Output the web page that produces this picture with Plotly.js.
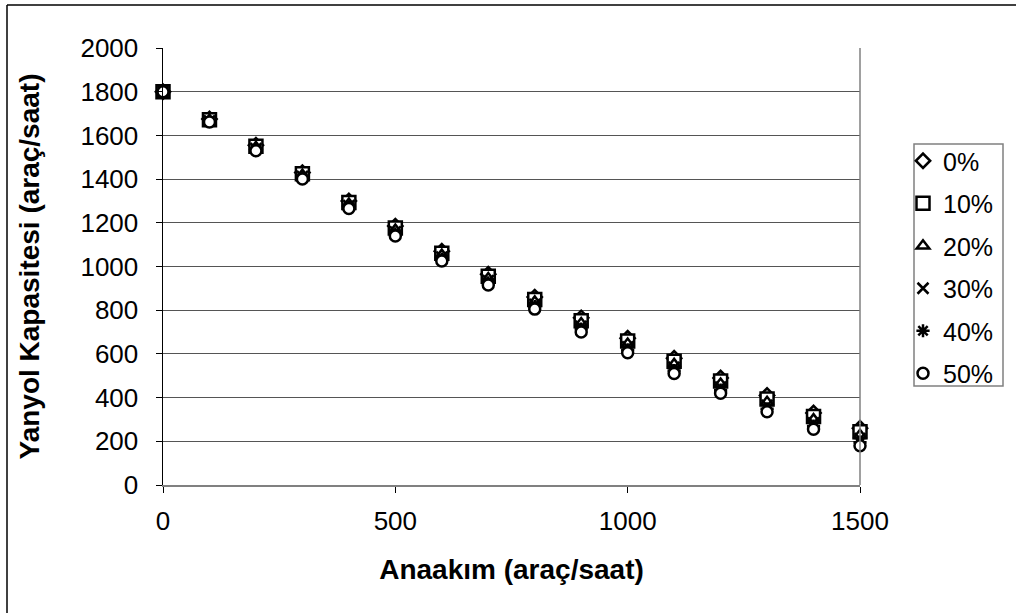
<!DOCTYPE html>
<html>
<head>
<meta charset="utf-8">
<script src="https://cdn.plot.ly/plotly-3.0.1.min.js"></script>
<style>html,body{margin:0;padding:0;background:#fff;}#chart{width:1016px;height:613px;}</style>
</head>
<body>
<div id="chart"></div>
<script>
var anaakim = [0,100,200,300,400,500,600,700,800,900,1000,1100,1200,1300,1400,1500];
var p0  = [1800,1675,1555,1430,1300,1185,1070,965,860,765,672,580,490,410,330,260];
var p10 = [1800,1672,1550,1424,1293,1176,1061,955,849,752,659,566,476,394,314,244];
var p20 = [1800,1669,1545,1418,1286,1167,1052,945,838,739,645,552,462,379,299,228];
var p30 = [1800,1667,1540,1412,1279,1158,1043,935,827,726,632,538,448,364,284,212];
var p40 = [1800,1664,1535,1406,1272,1149,1034,925,816,713,618,524,434,349,270,196];
var p50 = [1800,1661,1530,1400,1265,1140,1025,915,805,700,605,510,420,335,255,180];
var seriesNames = ['0%','10%','20%','30%','40%','50%'];
var seriesData = [p0,p10,p20,p30,p40,p50];
var symbols = ['diamond','square','triangle-up','x-thin-open','asterisk-open','circle'];
var fills = ['#ffffff','#ffffff','#ffffff','#000000','#000000','#ffffff'];
var sizes = [11,13,11,11,11,11];

var traces = seriesData.map(function(d,i){
  return {
    x: anaakim, y: d, name: seriesNames[i], type: 'scatter', mode: 'markers',
    legendgroup: 'g'+i,
    marker: {symbol: symbols[i], size: sizes[i], color: fills[i],
             line: {color: '#000000', width: 2.5}},
    cliponaxis: false
  };
});

// plot area: left 163, right 860, top 48, bottom 485
function px(x){ return (x-163)/697; }
function py(y){ return (485-y)/437; }

var layout = {
  width: 1016, height: 613,
  margin: {l: 163, r: 156, t: 48, b: 128},
  paper_bgcolor: '#ffffff', plot_bgcolor: '#ffffff',
  font: {family: 'Liberation Sans, Arial, sans-serif', size: 26, color: '#000'},
  showlegend: true,
  legend: {x: px(903), xanchor: 'left', y: py(138), yanchor: 'top',
           borderwidth: 0, bgcolor: 'rgba(0,0,0,0)',
           font: {size: 25}, traceorder: 'grouped', tracegroupgap: 7,
           itemwidth: 30},
  xaxis: {range: [0,1500], tickvals: [0,500,1000,1500], ticks: 'outside', ticklen: 6,
          tickcolor: '#000', showgrid: false, zeroline: false, showline: true,
          linecolor: '#808080', linewidth: 1.5, mirror: false,
          ticklabelstandoff: 6,
          title: {text: '<b>Anaakım (araç/saat)</b>', font: {size: 28}, standoff: 24},
          fixedrange: true},
  yaxis: {range: [0,2000], dtick: 200, ticks: 'outside', ticklen: 6, tickcolor: '#000',
          showgrid: true, gridcolor: '#555', gridwidth: 1, zeroline: false,
          showline: true, linecolor: '#000', linewidth: 1.5,
          ticklabelstandoff: 12,
          title: {text: '<b>Yanyol Kapasitesi (araç/saat)</b>', font: {size: 28}, standoff: 32},
          fixedrange: true},
  shapes: [
    {type: 'line', xref: 'paper', yref: 'paper', x0: 1, x1: 1, y0: 0, y1: 1,
     line: {color: '#808080', width: 1.5}},
    {type: 'rect', xref: 'paper', yref: 'paper', x0: px(914), x1: px(1003), y0: py(386), y1: py(144),
     line: {color: '#808080', width: 1.5}, fillcolor: '#fff', layer: 'below'},
    {type: 'line', xref: 'paper', yref: 'paper', x0: px(7), x1: px(1030), y0: py(5), y1: py(5),
     line: {color: '#000', width: 1.5}},
    {type: 'line', xref: 'paper', yref: 'paper', x0: px(7), x1: px(7), y0: py(5), y1: py(640),
     line: {color: '#000', width: 1.5}}
  ]
};
Plotly.newPlot('chart', traces, layout, {displayModeBar: false, staticPlot: true});
</script>
</body>
</html>
